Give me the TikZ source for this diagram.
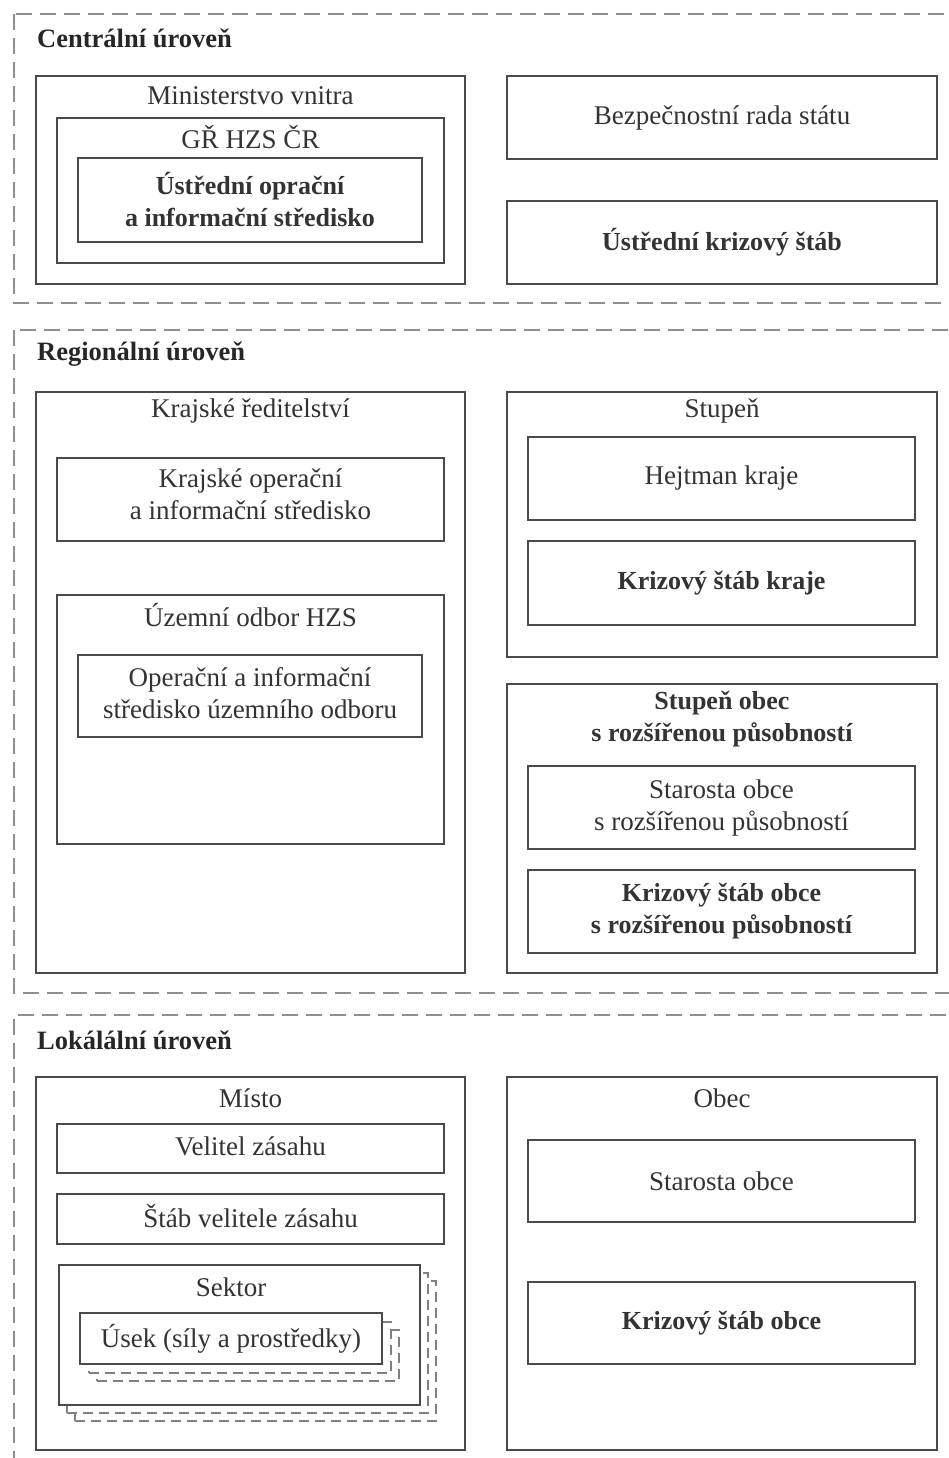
\documentclass[tikz,border=0pt]{standalone}
\usepackage{fontspec}
\setmainfont{Liberation Serif}
\definecolor{boxc}{HTML}{4A4A4A}
\definecolor{dashc}{HTML}{8E8E8E}
\definecolor{txt}{HTML}{333333}
\tikzset{
 box/.style={draw=boxc, line width=1.5pt, fill=white, inner sep=0pt, outer sep=0pt, align=center, text=txt, font=\fontsize{27}{32}\selectfont},
 boldbox/.style={box, font=\fontsize{26}{32}\selectfont\bfseries},
 lbl/.style={inner sep=0pt, text=txt, font=\fontsize{27}{32}\selectfont, align=center},
 blbl/.style={lbl, font=\fontsize{26}{32}\selectfont\bfseries},
 title/.style={inner sep=0pt, anchor=west, text=black!85, font=\fontsize{26.5}{28}\selectfont\bfseries},
 level/.style={draw=dashc, line width=2.2pt, dash pattern=on 16pt off 8pt},
 ghost/.style={box, draw=boxc!70, dash pattern=on 10pt off 6pt},
}
% \bx[style]{x1}{y1}{x2}{y2}{name} {text};
\newcommand\bx[6][box]{\node[#1, minimum width={(#4)-(#2)}, minimum height={(#5)-(#3)}] (#6) at ({((#2)+(#4))/2},{((#3)+(#5))/2})}
\begin{document}
\begin{tikzpicture}[x=1pt,y=-1pt]
\useasboundingbox (0,0) rectangle (949,1458);
\clip (0,0) rectangle (949,1458);
% ---------- Central level
\draw[level] (14,14) rectangle (970,303);
\node[title] (tc) at (37,38) {Centrální úroveň};
\bx{36}{76}{465}{284}{mv} {};
\node[lbl] (mvl) at (250.5,96) {Ministerstvo vnitra};
\bx{57}{118}{444}{263}{gr} {};
\node[lbl] (grl) at (250.5,137) {GŘ HZS ČR};
\bx{78}{158}{422}{242}{uois} {};
\node[blbl] (uoisl) at (250,199) {Ústřední oprační\\a informační středisko};
\bx{507}{76}{937}{159}{brs} {Bezpečnostní rada státu};
\bx[boldbox]{507}{201}{937}{284}{uks} {Ústřední krizový štáb};
% ---------- Regional level
\draw[level] (14,330) rectangle (970,993);
\node[title] (tr) at (37,354) {Regionální úroveň};
\bx{36}{392}{465}{973}{kr} {};
\node[lbl] (krl) at (250.5,411) {Krajské ředitelství};
\bx{57}{458}{444}{541}{kois} {};
\node[lbl] (koisl) at (250.5,494) {Krajské operační\\a informační středisko};
\bx{57}{595}{444}{844}{uo} {};
\node[lbl] (uol) at (250.5,615) {Územní odbor HZS};
\bx{78}{655}{422}{737}{ois} {};
\node[lbl] (oisl) at (250,693.5) {Operační a informační\\středisko územního odboru};
\bx{507}{392}{937}{657}{st} {};
\node[lbl] (stl) at (722,411) {Stupeň};
\bx{528}{437}{915}{520}{hk} {Hejtman kraje};
\bx[boldbox]{528}{541}{915}{625}{ksk} {Krizový štáb kraje};
\bx{507}{684}{937}{973}{so} {};
\node[blbl] (sol) at (722,719) {Stupeň obec\\s rozšířenou působností};
\bx{528}{766}{915}{849}{sor} {Starosta obce\\s rozšířenou působností};
\bx[boldbox]{528}{870}{915}{953}{kso} {Krizový štáb obce\\s rozšířenou působností};
% ---------- Local level
\draw[level] (970,1015) -- (14,1015) -- (14,1470);
\node[title] (tl) at (37,1040) {Lokálální úroveň};
\bx{36}{1077}{465}{1450}{mi} {};
\node[lbl] (mil) at (250.5,1098) {Místo};
\bx{57}{1124}{444}{1173}{vz} {};
\node[lbl] (vzl) at (250.5,1146) {Velitel zásahu};
\bx{57}{1194}{444}{1244}{svz} {};
\node[lbl] (svzl) at (250.5,1216) {Štáb velitele zásahu};
\bx[ghost]{75}{1281}{436}{1421}{sek2} {};
\bx[ghost]{67}{1273}{428}{1413}{sek1} {};
\bx{59}{1265}{420}{1405}{sek} {};
\node[lbl] (sekl) at (231,1287) {Sektor};
\bx[ghost]{97}{1330}{399}{1381}{us2} {};
\bx[ghost]{89}{1322}{391}{1373}{us1} {};
\bx{80}{1313}{382}{1364}{us} {Úsek (síly a prostředky)};
\bx{507}{1077}{937}{1450}{ob} {};
\node[lbl] (obl) at (722,1098) {Obec};
\bx{528}{1140}{915}{1222}{sto} {Starosta obce};
\bx[boldbox]{528}{1282}{915}{1364}{kob} {Krizový štáb obce};
\end{tikzpicture}
\end{document}
